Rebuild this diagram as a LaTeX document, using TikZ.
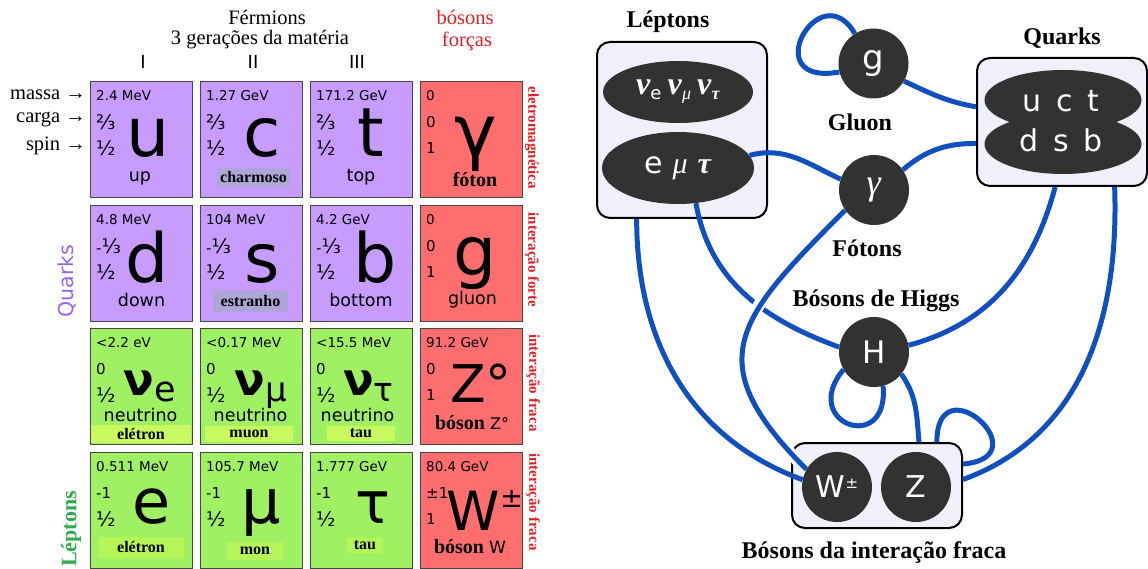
\documentclass[tikz,border=0pt]{standalone}
\usepackage{fontspec}
\setmainfont{Liberation Serif}
\setsansfont{DejaVu Sans}
\usetikzlibrary{shapes.geometric}

\definecolor{roxo}{RGB}{200,155,255}
\definecolor{verde}{RGB}{160,240,100}
\definecolor{vermelho}{RGB}{255,110,110}
\definecolor{borda}{RGB}{70,70,70}
\definecolor{lilas}{RGB}{175,165,215}
\definecolor{verdeclaro}{RGB}{200,250,95}
\definecolor{verdemedio}{RGB}{182,245,88}
\definecolor{textovermelho}{RGB}{225,30,35}
\definecolor{textoroxo}{RGB}{150,100,230}
\definecolor{textoverde}{RGB}{50,170,80}
\definecolor{azul}{RGB}{15,80,190}
\definecolor{escuro}{RGB}{50,50,50}
\definecolor{fundo}{RGB}{240,240,250}

\tikzset{
  celula/.style={draw=borda, line width=1.3pt, minimum width=102pt, minimum height=116pt, anchor=north west, inner sep=0pt},
  valmassa/.style={font=\sffamily\fontsize{13.5}{14}\selectfont, anchor=west, inner sep=0pt},
  numero/.style={font=\sffamily\fontsize{15}{16}\selectfont, anchor=west, inner sep=0pt},
  nome/.style={font=\sffamily\fontsize{17.5}{18}\selectfont, inner sep=0pt},
  simbolo/.style={font=\sffamily\fontsize{68}{68}\selectfont, anchor=base, inner sep=0pt},
  rotulo/.style={font=\bfseries\fontsize{16}{16}\selectfont, inner sep=0pt},
  forca/.style={font=\bfseries\fontsize{15}{15}\selectfont, text=textovermelho, rotate=-90, inner sep=0pt},
  titulo/.style={font=\fontsize{20.5}{24}\selectfont, inner sep=0pt},
  diagtitulo/.style={font=\bfseries\fontsize{24}{24}\selectfont, inner sep=0pt},
  caixa/.style={draw=black, line width=2pt, rounded corners=13pt, fill=fundo},
  elipse/.style={ellipse, fill=escuro, text=white, inner sep=0pt},
  particula/.style={circle, fill=escuro, text=white, minimum size=70pt, inner sep=0pt, font=\sffamily\fontsize{31}{31}\selectfont},
  lig/.style={draw=azul, line width=5pt}
}

% celula: nome, x, y, cor, massa, carga, spin
\newcommand{\celula}[7]{%
  \node[celula, fill=#4] (#1) at (#2,#3) {};
  \node[valmassa] (#1-m) at (#2+6,#3-15) {#5};
  \node[numero] (#1-q) at (#2+6,#3-41) {#6};
  \node[numero] (#1-s) at (#2+6,#3-67) {#7};
}
\newcommand{\fr}[1]{{\fontsize{20}{20}\selectfont #1}}
\newcommand{\gr}[1]{\textit{#1}}
\newcommand{\grb}[1]{\textbf{\textit{#1}}}

\begin{document}
\begin{tikzpicture}[x=1pt, y=1pt]
\useasboundingbox (0,0) rectangle (1148,-569);

% Titulos
\node[titulo] (ferm) at (267,-17) {Férmions};
\node[titulo] (ger) at (260,-40) {3 gerações da matéria};
\node[titulo, text=textovermelho] (bos) at (465,-17) {bósons};
\node[titulo, text=textovermelho] (forc) at (467,-41) {forças};
\node[font=\sffamily\fontsize{18}{18}\selectfont] (g1) at (143,-62) {I};
\node[font=\sffamily\fontsize{18}{18}\selectfont] (g2) at (253,-62) {II};
\node[font=\sffamily\fontsize{18}{18}\selectfont] (g3) at (357,-62) {III};
\node[titulo, anchor=east] (lmassa) at (86,-95) {massa →};
\node[titulo, anchor=east] (lcarga) at (86,-119) {carga →};
\node[titulo, anchor=east] (lspin) at (86,-146) {spin →};
\node[font=\sffamily\fontsize{20.5}{20}\selectfont, text=textoroxo, rotate=90] (lq) at (67,-281) {Quarks};
\node[font=\bfseries\fontsize{22}{22}\selectfont, text=textoverde, rotate=90] (ll) at (71,-529) {Léptons};

% Tabela
\celula{u}{90}{-81}{roxo}{2.4 MeV}{\fr{⅔}}{\fr{½}}
\celula{c}{200}{-81}{roxo}{1.27 GeV}{\fr{⅔}}{\fr{½}}
\celula{t}{310}{-81}{roxo}{171.2 GeV}{\fr{⅔}}{\fr{½}}
\celula{gama}{420}{-81}{vermelho}{0}{0}{1}
\celula{d}{90}{-205}{roxo}{4.8 MeV}{-\fr{⅓}}{\fr{½}}
\celula{s}{200}{-205}{roxo}{104 MeV}{-\fr{⅓}}{\fr{½}}
\celula{b}{310}{-205}{roxo}{4.2 GeV}{-\fr{⅓}}{\fr{½}}
\celula{gl}{420}{-205}{vermelho}{0}{0}{1}
\celula{nue}{90}{-328}{verde}{<2.2 eV}{0}{\fr{½}}
\celula{num}{200}{-328}{verde}{<0.17 MeV}{0}{\fr{½}}
\celula{nut}{310}{-328}{verde}{<15.5 MeV}{0}{\fr{½}}
\celula{z0}{420}{-328}{vermelho}{91.2 GeV}{0}{1}
\celula{e}{90}{-452}{verde}{0.511 MeV}{-1}{\fr{½}}
\celula{mu}{200}{-452}{verde}{105.7 MeV}{-1}{\fr{½}}
\celula{tau}{310}{-452}{verde}{1.777 GeV}{-1}{\fr{½}}
\celula{w}{420}{-452}{vermelho}{80.4 GeV}{±1}{1}

% Simbolos
\node[simbolo] (su) at (148,-157) {u};
\node[simbolo] (sc) at (262,-157) {c};
\node[simbolo] (st) at (371,-157) {t};
\node[simbolo, font=\sffamily\fontsize{72}{72}\selectfont] (sgama) at (476,-157) {γ};
\node[simbolo] (sd) at (147.5,-283) {d};
\node[simbolo] (ss) at (262.5,-283) {s};
\node[simbolo] (sb) at (375.5,-283) {b};
\node[simbolo] (sg) at (475,-276) {g};
\node[simbolo, font=\sffamily\bfseries\fontsize{45}{45}\selectfont] (snue) at (150,-395) {ν\raisebox{-6pt}{\mdseries\fontsize{35}{35}\selectfont e}};
\node[simbolo, font=\sffamily\bfseries\fontsize{45}{45}\selectfont] (snum) at (261,-395) {ν\raisebox{-6pt}{\mdseries\fontsize{34}{34}\selectfont μ}};
\node[simbolo, font=\sffamily\bfseries\fontsize{45}{45}\selectfont] (snut) at (368.5,-395) {ν\raisebox{-6pt}{\mdseries\fontsize{33}{33}\selectfont τ}};
\node[simbolo, font=\sffamily\fontsize{52}{52}\selectfont] (sz0) at (481,-402) {Z°};
\node[simbolo, font=\sffamily\fontsize{62}{62}\selectfont] (se) at (151.5,-523) {e};
\node[simbolo, font=\sffamily\fontsize{62}{62}\selectfont] (smu) at (261,-523) {μ};
\node[simbolo, font=\sffamily\fontsize{58}{58}\selectfont] (stau) at (372.5,-523) {τ};
\node[simbolo, font=\sffamily\fontsize{54}{54}\selectfont] (sw) at (485,-530) {W\raisebox{23pt}{\fontsize{27}{27}\selectfont ±}};

% Nomes
\node[nome] (nu) at (140,-178) {up};
\node[nome] (nt) at (361,-177) {top};
\node[nome] (nd) at (141.5,-300) {down};
\node[nome] (nb) at (361,-300) {bottom};
\node[nome] (ngl) at (472.5,-300) {gluon};
\node[nome, anchor=base] (nnue) at (140.5,-421) {neutrino};
\node[nome, anchor=base] (nnum) at (250.5,-421) {neutrino};
\node[nome, anchor=base] (nnut) at (357.5,-421) {neutrino};
\node[rotulo, fill=lilas, minimum width=73pt, minimum height=19pt] (charm) at (253.5,-177.5) {charmoso};
\node[rotulo, fill=lilas, minimum width=75pt, minimum height=22pt] (estr) at (250.5,-301) {estranho};
\node[rotulo, font=\bfseries\fontsize{20}{20}\selectfont] (foton) at (475,-180) {fóton};
\node[rotulo, fill=verdeclaro, minimum width=100pt, minimum height=18pt] (lnue) at (141,-434) {elétron};
\node[rotulo, fill=verdeclaro, minimum width=88pt, minimum height=16pt] (lnum) at (249,-433.5) {muon};
\node[rotulo, fill=verdeclaro, minimum width=68pt, minimum height=15pt] (lnut) at (361,-433) {tau};
\node[rotulo, font=\bfseries\fontsize{20}{20}\selectfont] (bz) at (472,-423) {bóson \textsf{\mdseries\fontsize{16}{16}\selectfont Z°}};
\node[rotulo, fill=verdemedio, minimum width=86pt, minimum height=21pt] (le) at (141,-547.5) {elétron};
\node[rotulo, fill=verdemedio, minimum width=56pt, minimum height=18pt] (lmu) at (255,-551) {mon};
\node[rotulo, fill=verdemedio, minimum width=36pt, minimum height=15pt] (ltau) at (365,-545.5) {tau};
\node[rotulo, font=\bfseries\fontsize{20}{20}\selectfont] (bw) at (470,-547) {bóson \textsf{\mdseries\fontsize{17}{17}\selectfont W}};

% Forcas
\node[forca] (fem) at (532,-138) {eletromagnética};
\node[forca] (ffo) at (532,-260) {interação forte};
\node[forca] (ffr1) at (533,-383) {interação fraca};
\node[forca] (ffr2) at (533,-502) {interação fraca};

% Diagrama
\node[diagtitulo] (tlep) at (668,-22) {Léptons};
\node[caixa, minimum width=170pt, minimum height=176pt] (lep) at (682,-130) {};
\node[elipse, minimum width=150pt, minimum height=62pt, font=\fontsize{32}{32}\selectfont] (neu) at (678,-92) {\grb{ν}\raisebox{-5pt}{\sffamily\fontsize{18}{18}\selectfont e}\hspace{6pt}\grb{ν}\raisebox{-5pt}{\fontsize{18}{18}\selectfont\gr{μ}}\hspace{6pt}\grb{ν}\raisebox{-5pt}{\fontsize{18}{18}\selectfont\grb{τ}}};
\node[elipse, minimum width=152pt, minimum height=72pt, font=\fontsize{30}{30}\selectfont] (carr) at (678,-168) {\textsf{e}\hspace{10pt}\gr{μ}\hspace{10pt}\grb{τ}};

\node[diagtitulo] (tqk) at (1062,-38) {Quarks};
\node[caixa, minimum width=170pt, minimum height=128pt] (qk) at (1062,-122) {};
\node[elipse, minimum width=157pt, minimum height=60pt] (qa) at (1063,-100) {};
\node[elipse, minimum width=157pt, minimum height=60pt] (qb) at (1063,-144) {};
\node[font=\sffamily\fontsize{30}{30}\selectfont, text=white, anchor=base] (uct) at (1061,-112) {u\hspace{15pt}c\hspace{15pt}t};
\node[font=\sffamily\fontsize{30}{30}\selectfont, text=white, anchor=base] (dsb) at (1061,-152) {d\hspace{15pt}s\hspace{15pt}b};

\node[particula, font=\sffamily\fontsize{34}{34}\selectfont] (g) at (873.5,-63.5) {g};
\node[diagtitulo] (tgl) at (860,-122) {Gluon};
\node[particula, font=\fontsize{36}{36}\selectfont] (ga) at (874,-190) {\gr{γ}};
\node[diagtitulo] (tfo) at (867,-248) {Fótons};
\node[diagtitulo] (thi) at (876,-301) {Bósons de Higgs};
\node[particula] (h) at (874,-352) {H};

\node[caixa, minimum width=170pt, minimum height=85pt] (wk) at (877,-485.5) {};
\node[particula, font=\sffamily\fontsize{30}{30}\selectfont] (wb) at (837,-487) {W\raisebox{9pt}{\fontsize{15}{15}\selectfont ±}};
\node[particula, font=\sffamily\fontsize{30}{30}\selectfont] (zb) at (916,-487) {Z};
\node[diagtitulo] (twk) at (874,-553) {Bósons da interação fraca};

% Ligacoes
\draw[lig] (g.122) .. controls +(120:70) and +(190:85) .. (g.194);
\draw[lig] (g.-30) to[out=-25, in=170] (qk.170);
\draw[lig] (ga.35) to[out=40, in=180] (qk.194);
\draw[lig] (carr.10) to[out=15, in=155] (ga.162);
\draw[lig] (lep.243) to[out=-90, in=160] (wb.168);
\draw[lig] (carr.-63) to[out=-80, in=160] (h.172);
\draw[lig, preaction={draw=white, line width=12pt, shorten <=12pt, shorten >=12pt}] (ga.215) to[out=225, in=135, looseness=1.5] (wb.150);
\draw[lig] (h.11) to[out=15, in=-105] (qk.264);
\draw[lig] (qk.-51) to[out=-88, in=20] (wk.4);
\draw[lig] (h.210) .. controls +(230:70) and +(-85:70) .. (h.-75);
\draw[lig] (h.-39) to[out=-55, in=95] (wk.46);
\draw[lig] (wk.36) .. controls +(90:80) and +(5:80) .. (wk.14);
\end{tikzpicture}
\end{document}
